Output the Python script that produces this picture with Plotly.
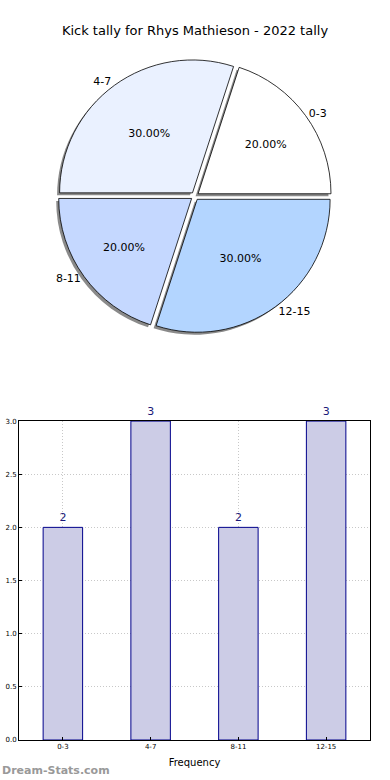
import plotly.graph_objects as go

categories = ["0-3", "4-7", "8-11", "12-15"]
counts = [2, 3, 2, 3]
pie_colors = ["#ffffff", "#eaf1ff", "#c5d8ff", "#b3d5ff"]
title_text = "Kick tally for Rhys Mathieson - 2022 tally"
y_ticks = [0.0, 0.5, 1.0, 1.5, 2.0, 2.5, 3.0]

FONT = "DejaVu Sans"
pull = [0.03] * 4
dom_x = [0.095, 0.907]
dom_y = [0.55, 0.92]
sx, sy = -2.5 / 351, -2.5 / 740

fig = go.Figure()
# shadow
fig.add_trace(go.Pie(
    labels=categories, values=counts, sort=False, direction="counterclockwise",
    rotation=18, pull=pull, domain=dict(x=[dom_x[0] + sx, dom_x[1] + sx], y=[dom_y[0] + sy, dom_y[1] + sy]),
    marker=dict(colors=["#8a8a8a"] * 4, line=dict(width=0)), textinfo="none",
    hoverinfo="skip", showlegend=False,
))
# main slices with percentages
fig.add_trace(go.Pie(
    labels=categories, values=counts, sort=False, direction="counterclockwise",
    rotation=18, pull=pull, domain=dict(x=dom_x, y=dom_y),
    marker=dict(colors=pie_colors, line=dict(color="black", width=0.8)),
    texttemplate="%{percent:.2%}", textposition="inside", insidetextorientation="horizontal",
    textfont=dict(family=FONT, size=11, color="black"), showlegend=False,
))
# outside labels
fig.add_trace(go.Pie(
    labels=categories, values=counts, sort=False, direction="counterclockwise",
    rotation=18, pull=pull, domain=dict(x=dom_x, y=dom_y),
    marker=dict(colors=["rgba(0,0,0,0)"] * 4, line=dict(width=0)),
    texttemplate="%{label}", textposition="outside",
    textfont=dict(family=FONT, size=11, color="black"), showlegend=False, hoverinfo="skip",
))

fig.add_trace(go.Bar(
    x=categories, y=counts, width=0.45,
    marker=dict(color="#ccccE6", line=dict(color="#00008b", width=1)),
    text=[str(c) for c in counts], textposition="outside", cliponaxis=False,
    textfont=dict(family=FONT, size=11, color="#1a1a7a"), showlegend=False,
))

axis_common = dict(showgrid=True, gridcolor="#c8c8c8", griddash="1px,2px", gridwidth=1,
                   showline=True, linecolor="black", linewidth=1, mirror=True,
                   ticks="inside", ticklen=3, tickcolor="black", automargin=False,
                   tickfont=dict(family=FONT, size=7, color="black"), zeroline=False)

fig.update_layout(
    width=390, height=780,
    margin=dict(l=19, r=20, t=0, b=40, autoexpand=False),
    paper_bgcolor="white", plot_bgcolor="white",
    font=dict(family=FONT),
    title=dict(text=title_text, x=0.5, xanchor="center", y=1 - 30 / 780, yanchor="middle",
               yref="container", font=dict(family=FONT, size=13, color="black")),
    xaxis=dict(range=[-0.5, 3.5], title=dict(text="Frequency", font=dict(family=FONT, size=10, color="black"),
                                              standoff=8), **axis_common),
    yaxis=dict(range=[0, 3], domain=[0, 0.431], tickvals=y_ticks, tickformat=".1f", **axis_common),
    annotations=[dict(text="<b>Dream-Stats.com</b>", xref="paper", yref="paper",
                      x=-19 / 351, y=-30 / 740, xanchor="left", yanchor="middle", showarrow=False,
                      font=dict(family=FONT, size=11, color="#999999"))],
)

fig.write_html("out.html", config={"displayModeBar": False},
               post_script="document.body.style.margin='0';")
